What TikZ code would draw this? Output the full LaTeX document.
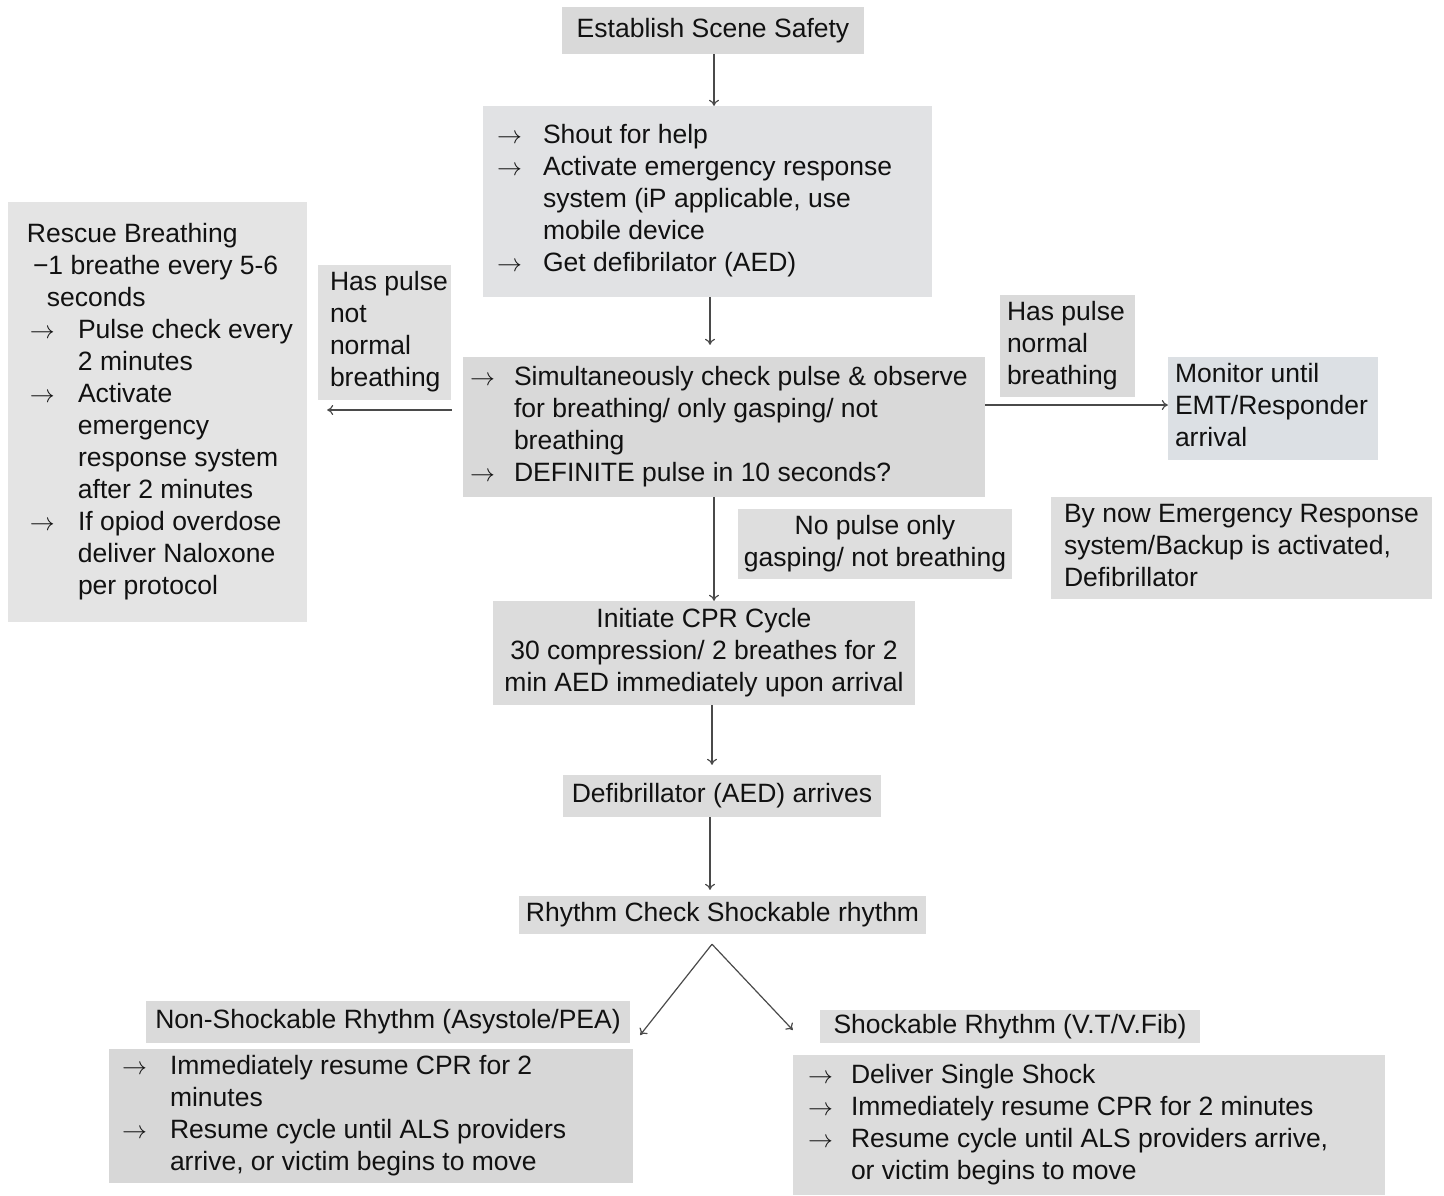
\documentclass[tikz,border=0pt]{standalone}
\usepackage{fontspec}
\setmainfont{Liberation Sans}
\usetikzlibrary{arrows.meta,calc}
\definecolor{txt}{HTML}{111111}
\definecolor{ln}{HTML}{4A4A4A}
\definecolor{cA}{HTML}{D9D9D9}
\definecolor{cB}{HTML}{E1E2E4}
\definecolor{cC}{HTML}{D9D9D9}
\definecolor{cD}{HTML}{E4E4E4}
\definecolor{cE}{HTML}{E0E0E0}
\definecolor{cF}{HTML}{DADADA}
\definecolor{cG}{HTML}{DCE0E4}
\definecolor{cH}{HTML}{DEDEDE}
\definecolor{cI}{HTML}{DCDCDC}
\definecolor{cJ}{HTML}{D7D7D7}
\newcommand\ar[1]{\makebox[#1][l]{$\rightarrow$}}
\newcommand\ind[1]{\hspace*{#1}}
\newcommand\lbox[3]{\makebox[#1][l]{\hspace*{#2}\begin{tabular}{@{}l@{}}#3\end{tabular}}}
\newcommand\cbox[1]{\begin{tabular}{@{}c@{}}#1\end{tabular}}
\begin{document}
\begin{tikzpicture}[x=1pt,y=-1pt,
  bx/.style={fill=#1, inner sep=0pt, text=txt, font=\fontsize{26.5}{32}\selectfont, rectangle},
  arr/.style={draw=ln, line width=1.2pt, -{To[length=6pt,width=10pt]}}]
\fill[white] (0,0) rectangle (1444,1195);
\useasboundingbox (0,0) rectangle (1444,1195);

\node[bx=cA, minimum width=302pt, minimum height=47pt] (ess) at (713,30.5) {Establish Scene Safety};

\node[bx=cB, minimum width=449pt, minimum height=191pt] (shout) at (707.5,201.5)
 {\lbox{449pt}{14pt}{\ar{46pt}Shout for help\\ \ar{46pt}Activate emergency response\\ \ind{46pt}system (iP applicable, use\\ \ind{46pt}mobile device\\ \ar{46pt}Get defibrilator (AED)}};

\node[bx=cC, minimum width=522pt, minimum height=140pt] (check) at (724,427)
 {\lbox{522pt}{7pt}{\ar{44pt}Simultaneously check pulse \& observe\\ \ind{44pt}for breathing/ only gasping/ not\\ \ind{44pt}breathing\\ \ar{44pt}DEFINITE pulse in 10 seconds?}};

\node[bx=cD, minimum width=299pt, minimum height=420pt] (rescue) at (157.5,412)
 {\lbox{299pt}{19pt}{Rescue Breathing\\ \ind{6pt}\char"2212 1 breathe every 5-6\\ \ind{20pt}seconds\\
 \makebox[51pt][l]{\hspace*{3pt}$\rightarrow$}Pulse check every\\ \ind{51pt}2 minutes\\
 \makebox[51pt][l]{\hspace*{3pt}$\rightarrow$}Activate\\ \ind{51pt}emergency\\ \ind{51pt}response system\\ \ind{51pt}after 2 minutes\\
 \makebox[51pt][l]{\hspace*{3pt}$\rightarrow$}If opiod overdose\\ \ind{51pt}deliver Naloxone\\ \ind{51pt}per protocol}};

\node[bx=cE, minimum width=133pt, minimum height=135pt] (hpn) at (384.5,332.5)
 {\lbox{133pt}{12pt}{Has pulse\\ not\\ normal\\ breathing}};

\node[bx=cF, minimum width=135pt, minimum height=102pt] (hpnb) at (1067.5,346)
 {\lbox{135pt}{7pt}{Has pulse\\ normal\\ breathing}};

\node[bx=cG, minimum width=210pt, minimum height=103pt] (monitor) at (1273,408.5)
 {\lbox{210pt}{7pt}{Monitor until\\ EMT/Responder\\ arrival}};

\node[bx=cH, minimum width=381pt, minimum height=102pt] (bynow) at (1241.5,548)
 {\lbox{381pt}{13pt}{By now Emergency Response\\ system/Backup is activated,\\ Defibrillator}};

\node[bx=cH, minimum width=274pt, minimum height=70pt] (nopulse) at (875,544)
 {\cbox{No pulse only\\ gasping/ not breathing}};

\node[bx=cI, minimum width=422pt, minimum height=104pt] (cpr) at (704,653)
 {\cbox{Initiate CPR Cycle\\ 30 compression/ 2 breathes for 2\\ min AED immediately upon arrival}};

\node[bx=cI, minimum width=318pt, minimum height=42pt] (aed) at (722,796) {Defibrillator (AED) arrives};

\node[bx=cI, minimum width=407pt, minimum height=38pt] (rhythm) at (722.5,915) {Rhythm Check Shockable rhythm};

\node[bx=cF, minimum width=484pt, minimum height=42pt] (nonshock) at (388,1022) {Non-Shockable Rhythm (Asystole/PEA)};

\node[bx=cJ, minimum width=524pt, minimum height=134pt] (nsdet) at (371,1116)
 {\lbox{524pt}{13pt}{\ar{48pt}Immediately resume CPR for 2\\ \ind{48pt}minutes\\ \ar{48pt}Resume cycle until ALS providers\\ \ind{48pt}arrive, or victim begins to move}};

\node[bx=cH, minimum width=380pt, minimum height=33pt] (shock) at (1010,1026.5) {Shockable Rhythm (V.T/V.Fib)};

\node[bx=cI, minimum width=592pt, minimum height=140pt] (sdet) at (1089,1125)
 {\lbox{592pt}{15pt}{\ar{43pt}Deliver Single Shock\\ \ar{43pt}Immediately resume CPR for 2 minutes\\ \ar{43pt}Resume cycle until ALS providers arrive,\\ \ind{43pt}or victim begins to move}};

% connectors
\coordinate (xa) at (714,0);
\coordinate (xb) at (710,0);
\coordinate (xc) at (712,0);
\coordinate (yl) at (0,410);
\coordinate (yr) at (0,405);
\draw[arr] (ess.south -| xa) -- (shout.north -| xa);
\draw[arr] (shout.south -| xb) -- ($(check.north -| xb)+(0,-12)$);
\draw[arr] ($(check.west |- yl)+(-11,0)$) -- ($(rescue.east |- yl)+(20,0)$);
\draw[arr] (check.east |- yr) -- (monitor.west |- yr);
\draw[arr] (check.south -| xa) -- (cpr.north -| xa);
\draw[arr] (cpr.south -| xc) -- ($(aed.north -| xc)+(0,-10)$);
\draw[arr] (aed.south -| xb) -- ($(rhythm.north -| xb)+(0,-6)$);
\coordinate (apex) at ($(rhythm.south)+(-10.5,10)$);
\coordinate (nsend) at ($(nonshock.east)+(10,13)$);
\coordinate (send) at ($(shock.west)+(-27,3.5)$);
\draw[arr] (apex) -- (nsend);
\draw[arr] (apex) -- (send);
\end{tikzpicture}
\end{document}
